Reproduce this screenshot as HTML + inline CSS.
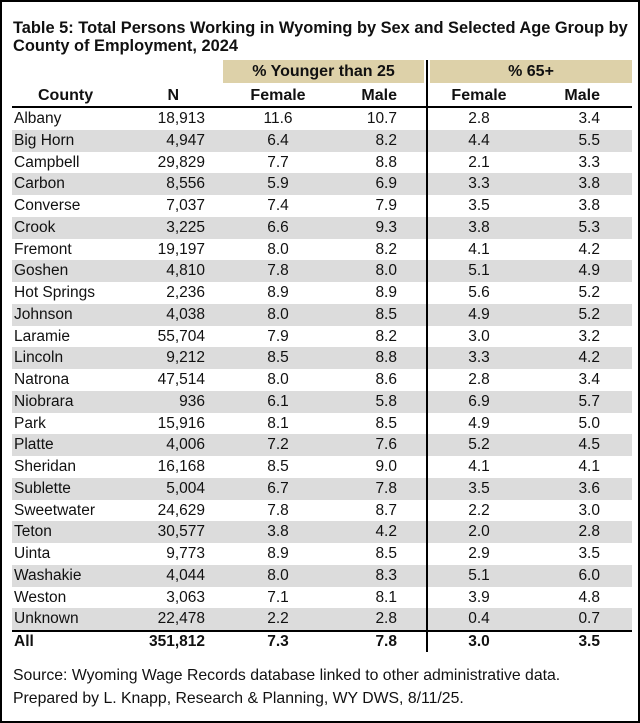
<!DOCTYPE html>
<html><head><meta charset="utf-8"><style>
body{margin:0;background:#fff;}
#f{position:relative;width:636px;height:719px;border:2px solid #000;background:#fff;font-family:"Liberation Sans",sans-serif;color:#111;overflow:hidden;}
.t{position:absolute;left:11px;font-weight:bold;font-size:16.4px;line-height:18px;white-space:nowrap;}
.tan{position:absolute;top:58px;height:23px;background:#ddd1a9;font-weight:bold;font-size:16px;line-height:23px;text-align:center;}
.r{position:absolute;left:10px;width:620px;height:21.75px;font-size:15.5px;line-height:22px;}
.g{background:#dcdcdc;}
.r span{position:absolute;white-space:nowrap;}
.c0{left:2px;}
.c1{right:427px;}
.c2{left:236px;width:60px;text-align:center;}
.c3{right:235px;}
.c4{left:437px;width:60px;text-align:center;}
.c5{right:32px;}
.b{font-weight:bold;}
.vl{position:absolute;left:424px;top:58px;width:2px;height:592px;background:#000;}
.hl{position:absolute;left:10px;width:620px;height:2px;background:#000;}
.s{position:absolute;left:11px;font-size:15.8px;white-space:nowrap;}
</style></head><body><div id="f">
<div class="t" style="top:17px">Table 5: Total Persons Working in Wyoming by Sex and Selected Age Group by</div>
<div class="t" style="top:35px">County of Employment, 2024</div>
<div class="tan" style="left:221px;width:201px">% Younger than 25</div>
<div class="tan" style="left:428px;width:202px">% 65+</div>
<div class="r b" style="top:83px;font-size:16px"><span class="c0" style="left:26px">County</span><span class="c1" style="right:453px">N</span><span class="c2">Female</span><span class="c3">Male</span><span class="c4">Female</span><span class="c5">Male</span></div>
<div class="hl" style="top:104px"></div>
<div id="rows"></div>
<div class="hl" style="top:628px"></div>
<div class="r b" style="top:629px"><span class="c0">All</span><span class="c1">351,812</span><span class="c2">7.3</span><span class="c3">7.8</span><span class="c4">3.0</span><span class="c5">3.5</span></div>
<div class="vl"></div>
<div class="s" style="top:665px">Source: Wyoming Wage Records database linked to other administrative data.</div>
<div class="s" style="top:688px">Prepared by L. Knapp, Research &amp; Planning, WY DWS, 8/11/25.</div>
<script>
var d=[["Albany","18,913","11.6","10.7","2.8","3.4"],["Big Horn","4,947","6.4","8.2","4.4","5.5"],["Campbell","29,829","7.7","8.8","2.1","3.3"],["Carbon","8,556","5.9","6.9","3.3","3.8"],["Converse","7,037","7.4","7.9","3.5","3.8"],["Crook","3,225","6.6","9.3","3.8","5.3"],["Fremont","19,197","8.0","8.2","4.1","4.2"],["Goshen","4,810","7.8","8.0","5.1","4.9"],["Hot Springs","2,236","8.9","8.9","5.6","5.2"],["Johnson","4,038","8.0","8.5","4.9","5.2"],["Laramie","55,704","7.9","8.2","3.0","3.2"],["Lincoln","9,212","8.5","8.8","3.3","4.2"],["Natrona","47,514","8.0","8.6","2.8","3.4"],["Niobrara","936","6.1","5.8","6.9","5.7"],["Park","15,916","8.1","8.5","4.9","5.0"],["Platte","4,006","7.2","7.6","5.2","4.5"],["Sheridan","16,168","8.5","9.0","4.1","4.1"],["Sublette","5,004","6.7","7.8","3.5","3.6"],["Sweetwater","24,629","7.8","8.7","2.2","3.0"],["Teton","30,577","3.8","4.2","2.0","2.8"],["Uinta","9,773","8.9","8.5","2.9","3.5"],["Washakie","4,044","8.0","8.3","5.1","6.0"],["Weston","3,063","7.1","8.1","3.9","4.8"],["Unknown","22,478","2.2","2.8","0.4","0.7"]];
var h="";d.forEach(function(r,i){h+='<div class="r'+(i%2?' g':'')+'" style="top:'+(106+i*21.75)+'px">';r.forEach(function(v,j){h+='<span class="c'+j+'">'+v+'</span>';});h+='</div>';});
document.getElementById("rows").outerHTML=h;
</script>
</div></body></html>
